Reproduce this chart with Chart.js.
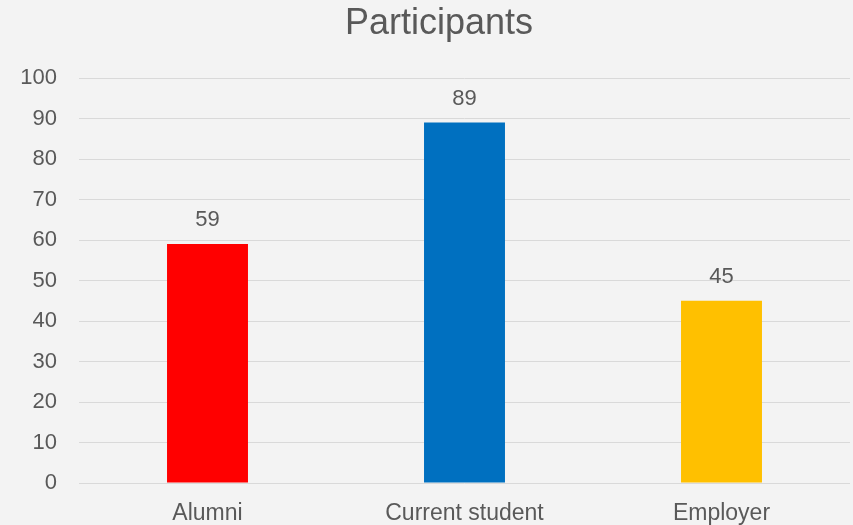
<!DOCTYPE html>
<html>
<head>
<meta charset="utf-8">
<title>Participants</title>
<script src="https://cdn.jsdelivr.net/npm/chart.js@4.4.1/dist/chart.umd.min.js"></script>
<style>
  html, body { margin: 0; padding: 0; background: #f3f3f3; }
  #wrap { width: 853px; height: 525px; position: relative; }
</style>
</head>
<body>
<div id="wrap"><canvas id="participantsChart"></canvas></div>
<script>
const chartTitle = 'Participants';
const categories = ['Alumni', 'Current student', 'Employer'];
const participants = [59, 89, 45];
const barColors = ['#ff0000', '#0070c0', '#ffc000'];
const yTicks = { min: 0, max: 100, step: 10 };

const textColor = '#595959';
const fontFamily = '"Liberation Sans", Arial, Helvetica, sans-serif';

// title sits a little right of the canvas centre, so it is drawn by hand
const titleText = {
  id: 'titleText',
  afterDraw(chart) {
    const { ctx } = chart;
    ctx.save();
    ctx.font = `36px ${fontFamily}`;
    ctx.fillStyle = textColor;
    ctx.textAlign = 'center';
    ctx.textBaseline = 'alphabetic';
    ctx.fillText(chartTitle, 439, 34);
    ctx.restore();
  }
};

// writes each bar's value just above it
const valueLabels = {
  id: 'valueLabels',
  afterDatasetsDraw(chart) {
    const { ctx } = chart;
    const meta = chart.getDatasetMeta(0);
    ctx.save();
    ctx.font = `22px ${fontFamily}`;
    ctx.fillStyle = textColor;
    ctx.textAlign = 'center';
    ctx.textBaseline = 'bottom';
    meta.data.forEach((bar, i) => {
      ctx.fillText(String(chart.data.datasets[0].data[i]), bar.x, bar.y - 13);
    });
    ctx.restore();
  }
};

new Chart(document.getElementById('participantsChart'), {
  type: 'bar',
  data: {
    labels: categories,
    datasets: [{
      label: chartTitle,
      data: participants,
      backgroundColor: barColors,
      borderWidth: 0,
      barPercentage: 0.63,
      categoryPercentage: 0.5
    }]
  },
  options: {
    responsive: true,
    maintainAspectRatio: false,
    animation: false,
    layout: { padding: { left: 0, right: 3, top: 78, bottom: 0 } },
    plugins: {
      legend: { display: false },
      tooltip: { enabled: false },
      title: { display: false }
    },
    scales: {
      x: {
        grid: { display: false, drawTicks: false },
        border: { display: false },
        ticks: {
          color: textColor,
          font: { family: fontFamily, size: 23 },
          padding: 17
        },
        afterFit(scale) { scale.height = 42; }
      },
      y: {
        min: yTicks.min,
        max: yTicks.max,
        grid: { color: '#d9d9d9', lineWidth: 1, drawTicks: false },
        border: { display: false },
        ticks: {
          stepSize: yTicks.step,
          color: textColor,
          font: { family: fontFamily, size: 22 },
          padding: 22
        },
        afterFit(scale) { scale.width = 79; }
      }
    }
  },
  plugins: [titleText, valueLabels]
});
</script>
</body>
</html>
